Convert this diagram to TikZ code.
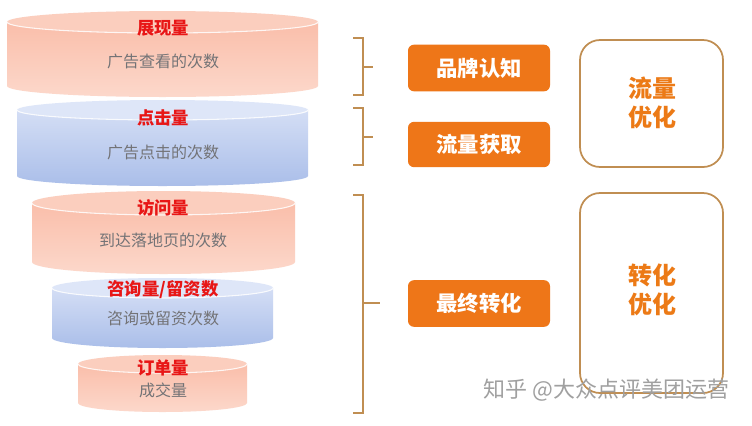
\documentclass[tikz,border=0pt]{standalone}
\usepackage{fontspec}
\newfontfamily\cjk{Noto Sans CJK SC}
\usetikzlibrary{shadings}
\definecolor{pinkTop}{RGB}{251,206,190}
\definecolor{pinkA}{RGB}{250,190,170}
\definecolor{pinkB}{RGB}{252,216,203}
\definecolor{blueTop}{RGB}{222,230,248}
\definecolor{blueA}{RGB}{212,222,245}
\definecolor{blueB}{RGB}{170,190,233}
\definecolor{lblRed}{RGB}{232,22,22}
\definecolor{txtGray}{RGB}{115,115,118}
\definecolor{boxOrange}{RGB}{238,118,24}
\definecolor{brownLine}{RGB}{192,142,82}
\definecolor{bigOrange}{RGB}{236,122,22}
\definecolor{wmGray}{RGB}{160,160,160}
\tikzset{
  lbl/.style={font=\cjk\bfseries\fontsize{13}{15}\selectfont, text=lblRed, inner sep=0pt},
  sub/.style={font=\cjk\fontsize{12}{14}\selectfont, text=txtGray, inner sep=0pt},
  obox/.style={fill=boxOrange, rounded corners=4.5pt, minimum width=106.5pt, minimum height=35pt,
    font=\cjk\bfseries\fontsize{16}{18}\selectfont, text=white, inner sep=0pt},
  rbox/.style={draw=brownLine, line width=1.3pt, rounded corners=15pt},
  bigtxt/.style={font=\cjk\bfseries\fontsize{18}{22}\selectfont, text=bigOrange, align=center, inner sep=0pt},
  brace/.style={draw=brownLine, line width=1pt},
  wm/.style={font=\cjk\fontsize{16.5}{18}\selectfont, text=wmGray, inner sep=0pt}
}
% #1 x1, #2 x2, #3 ytop, #4 ybottom, #5 ry, #6 body top color, #7 body bottom color, #8 top ellipse color
\newcommand{\mycyl}[8]{%
  \pgfmathsetmacro{\cx}{(#1+#2)/2}%
  \pgfmathsetmacro{\rx}{(#2-#1)/2}%
  \shade[top color=#6, bottom color=#7] (#1,#3) -- (#1,#4) arc[start angle=180, end angle=0, x radius=\rx, y radius=#5] -- (#2,#3) -- cycle;
  \fill[#8] (\cx,#3) ellipse[x radius=\rx, y radius=#5];
  \draw[white, line width=0.8pt, opacity=0.85] (#1,#3) arc[start angle=180, end angle=0, x radius=\rx, y radius=#5];
}
\begin{document}
\begin{tikzpicture}[x=0.75pt, y=-0.75pt]
\useasboundingbox (0,0) rectangle (752,425);
\fill[white] (0,0) rectangle (752,425);

% cylinders
\mycyl{7}{318}{22}{86}{11}{pinkA}{pinkB}{pinkTop}
\mycyl{17}{308}{110}{176}{10}{blueA}{blueB}{blueTop}
\mycyl{32}{295}{203}{262}{12}{pinkA}{pinkB}{pinkTop}
\mycyl{52}{273}{288}{338}{10}{blueA}{blueB}{blueTop}
\mycyl{78}{247}{364}{403}{9}{pinkA}{pinkB}{pinkTop}

\node[lbl] (l1) at (163,28) {展现量};
\node[sub] (s1) at (163,61) {广告查看的次数};
\node[lbl] (l2) at (163,118) {点击量};
\node[sub] (s2) at (163,152) {广告点击的次数};
\node[lbl] (l3) at (163,208) {访问量};
\node[sub] (s3) at (163,240) {到达落地页的次数};
\node[lbl] (l4) at (163,290) {咨询量/留资数};
\node[sub] (s4) at (163,318) {咨询或留资次数};
\node[lbl] (l5) at (163,368) {订单量};
\node[sub] (s5) at (163,390) {成交量};

% braces
\draw[brace] (353,38) -- (363,38) -- (363,95) -- (353,95);
\draw[brace] (363,67) -- (373,67);
\draw[brace] (353,108) -- (363,108) -- (363,165) -- (353,165);
\draw[brace] (363,137) -- (373,137);
\draw[brace] (353,195) -- (363,195) -- (363,413) -- (353,413);
\draw[brace] (363,303) -- (380,303);

% orange boxes
\node[obox] (b1) at (479,68) {品牌认知};
\node[obox, minimum height=34pt] (b2) at (479,144.5) {流量获取};
\node[obox] (b3) at (479,303.5) {最终转化};

% right boxes
\draw[rbox] (580,40) rectangle (723,167);
\node[bigtxt] (t1) at (652,103) {流量\\优化};
\draw[rbox] (580,193) rectangle (723,393);
\node[bigtxt] (t2) at (652,290) {转化\\优化};

% watermark
\node[wm, anchor=west] (wm) at (483,390) {知乎 @大众点评美团运营};
\end{tikzpicture}
\end{document}
